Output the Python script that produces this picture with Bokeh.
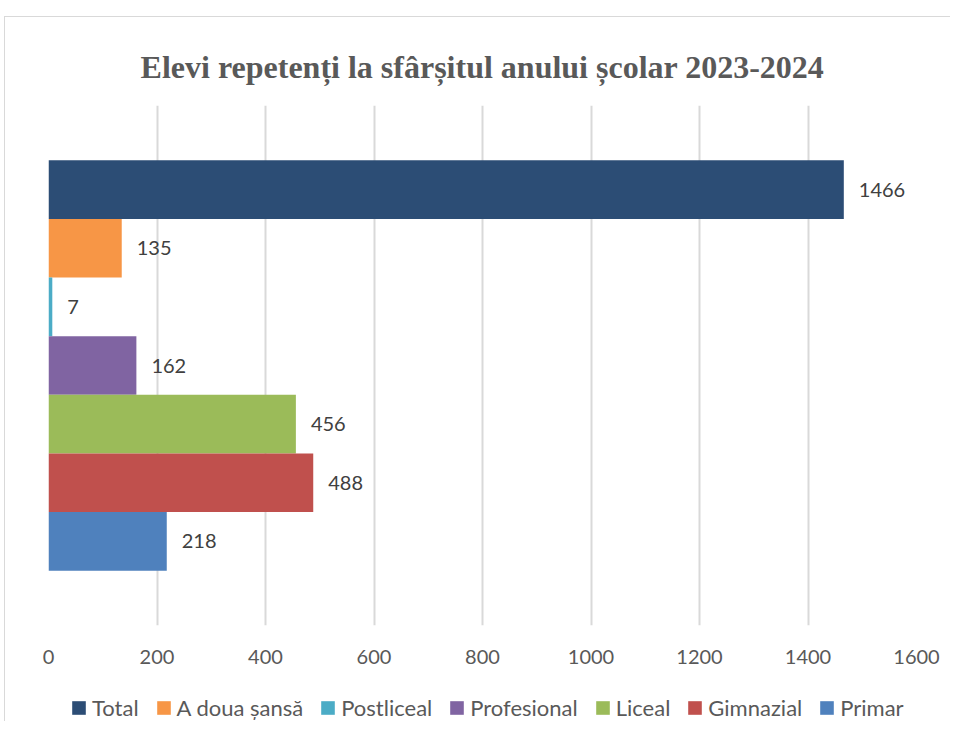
from bokeh.plotting import figure
from bokeh.models import Range1d, FixedTicker, Legend, LegendItem, ColumnDataSource
from bokeh.layouts import column
from bokeh.core.properties import value
from bokeh.embed import file_html
from bokeh.resources import INLINE

series = ["Total", "A doua șansă", "Postliceal", "Profesional", "Liceal", "Gimnazial", "Primar"]
values = [1466, 135, 7, 162, 456, 488, 218]
colors = ["#2C4D75", "#F79646", "#4BACC6", "#8064A2", "#9BBB59", "#C0504D", "#4F81BD"]
x_ticks = [0, 200, 400, 600, 800, 1000, 1200, 1400, 1600]

n = len(series)
gap = 0.935

p = figure(width=945, height=650, output_backend="svg", toolbar_location=None,
           x_range=Range1d(0, 1600), y_range=Range1d(-gap, n + gap),
           min_border_left=43, min_border_right=34, min_border_top=88, min_border_bottom=42)

p.title.text = "Elevi repetenți la sfârșitul anului școlar 2023-2024"
p.title.align = "center"
p.title.vertical_align = "top"
p.title.text_font = "Liberation Serif"
p.title.text_font_size = "32px"
p.title.text_font_style = "bold"
p.title.text_color = "#595959"
p.title.standoff = 38

p.outline_line_color = None
p.background_fill_color = "white"
p.border_fill_color = "white"

for i, (s, v, c) in enumerate(zip(series, values, colors)):
    yc = n - 1 - i + 0.5
    src = ColumnDataSource(dict(y=[yc], right=[v], lbl=[str(v)]))
    p.hbar(y="y", right="right", left=0, height=1.0, source=src,
           fill_color=c, line_color=None)
    p.text(x="right", y="y", text="lbl", source=src, x_offset=15,
           text_baseline="middle", text_align="left",
           text_font=value("Lato"), text_font_size="20px", text_color="#404040")

p.xaxis.ticker = FixedTicker(ticks=x_ticks)
p.xaxis.axis_line_color = None
p.xaxis.major_tick_line_color = None
p.xaxis.minor_tick_line_color = None
p.xaxis.major_label_text_font = "Lato"
p.xaxis.major_label_text_font_size = "20px"
p.xaxis.major_label_text_color = "#595959"
p.xaxis.major_label_standoff = 18
p.yaxis.visible = False

p.xgrid.grid_line_color = "#D9D9D9"
p.xgrid.grid_line_width = 2
p.ygrid.grid_line_color = None

# legend strip below the chart
p2 = figure(width=945, height=54, output_backend="svg", toolbar_location=None,
            x_range=Range1d(0, 1), y_range=Range1d(0, 1),
            min_border_left=0, min_border_right=0, min_border_top=0, min_border_bottom=0)
p2.axis.visible = False
p2.grid.visible = False
p2.outline_line_color = None
p2.background_fill_color = "white"
p2.border_fill_color = "white"

items = []
for s, v, c in zip(series, values, colors):
    src = ColumnDataSource(dict(y=[-10], right=[v]))
    r = p2.hbar(y="y", right="right", left=0, height=1.0, source=src,
                fill_color=c, line_color=None)
    items.append(LegendItem(label=s, renderers=[r]))

legend = Legend(items=items, orientation="horizontal", location=(22, 0),
                label_text_font="Lato", label_text_font_size="22px",
                label_text_color="#595959", glyph_width=17, glyph_height=17,
                label_standoff=5, spacing=16, border_line_color=None,
                margin=0, padding=0, background_fill_alpha=0)
p2.add_layout(legend, "center")

layout = column(p, p2, spacing=0)
layout.margin = (16, 0, 0, 4)
layout.styles = {"border-left": "1px solid #D9D9D9", "border-top": "1px solid #D9D9D9"}

open("out.html", "w").write(file_html(layout, INLINE))
